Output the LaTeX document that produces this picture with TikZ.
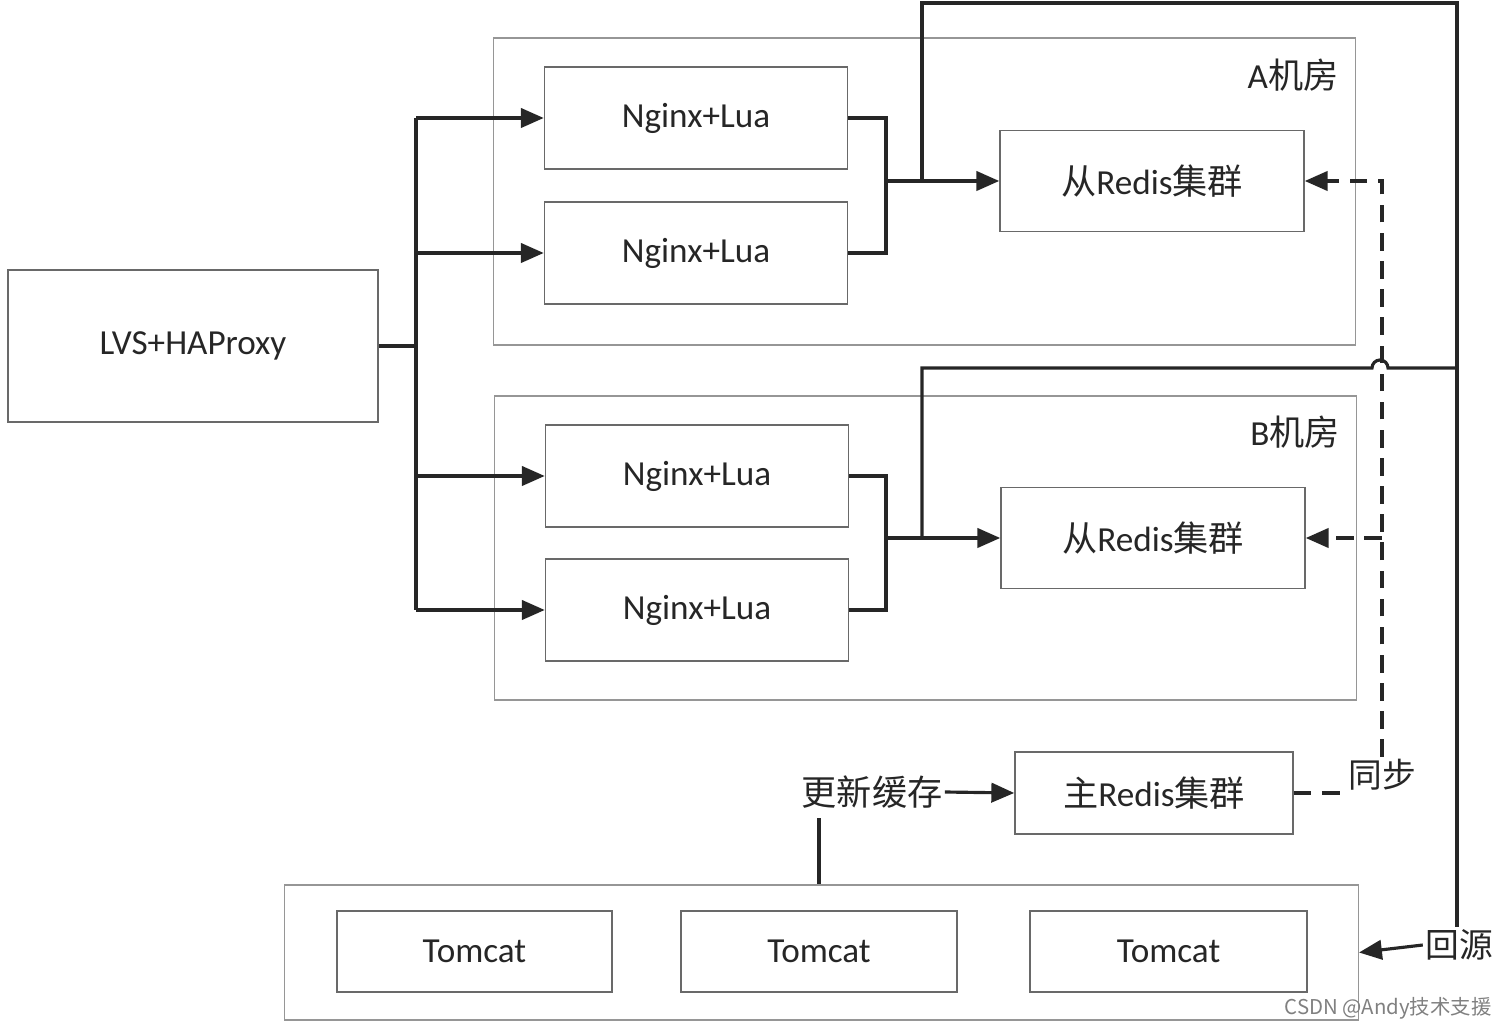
\documentclass[tikz,border=0pt]{standalone}
\usepackage{fontspec}
\setmainfont{Carlito}
\newfontfamily\cjk{Noto Sans CJK SC}
\usetikzlibrary{arrows.meta,positioning}
\definecolor{boxgray}{RGB}{105,105,105}
\definecolor{roomgray}{RGB}{150,150,150}
\definecolor{linedark}{RGB}{38,38,38}
\newcommand{\zh}[1]{{\cjk #1}}
\tikzset{
  box/.style={draw=boxgray, line width=0.4pt, minimum width=3.03cm, minimum height=1.02cm,
              inner sep=0pt, font=\fontsize{10}{12}\selectfont, text=linedark},
  room/.style={draw=roomgray, line width=0.4pt, inner sep=0pt, minimum width=8.61cm},
  tag/.style={font=\fontsize{10}{12}\selectfont, text=linedark, inner sep=0pt},
  lbl/.style={font=\cjk\fontsize{9.6}{11}\selectfont, text=linedark, inner sep=0.5pt},
  wire/.style={linedark, line width=0.9pt},
  arr/.style={wire, -{Triangle[length=6.5pt,width=5.5pt]}},
  syncl/.style={dash pattern=on 5pt off 3pt},
}

\begin{document}
\begin{tikzpicture}[x=0.01cm, y=-0.01cm]
    \useasboundingbox (0,0) rectangle (1500,1028);
    \node[room, minimum height=3.07cm] (roomA) at (924.5,191.5) {};
    \node[room, minimum height=3.04cm] (roomB) at (925.5,548) {};
    \node[tag] (tagA) at (1293,75) {A\zh{机房}};
    \node[tag] (tagB) at (1295,432) {B\zh{机房}};
    \node[box, minimum width=3.70cm, minimum height=1.52cm] (lvs) at (193,346) {LVS+HAProxy};
    \node[box] (ngxA1) at (696,118) {Nginx+Lua};
    \node[box] (ngxA2) at (696,253) {Nginx+Lua};
    \node[box] (ngxB1) at (697,476) {Nginx+Lua};
    \node[box] (ngxB2) at (697,610) {Nginx+Lua};
    \node[box, minimum width=3.04cm, minimum height=1.01cm] (redisA) at (1152,181) {\zh{从}Redis\zh{集群}};
    \node[box, minimum width=3.04cm, minimum height=1.01cm] (redisB) at (1153,538) {\zh{从}Redis\zh{集群}};
    \node[box, minimum width=2.78cm, minimum height=0.82cm] (master) at (1154,793) {\zh{主}Redis\zh{集群}};
    \node[box, draw=roomgray, minimum width=10.73cm, minimum height=1.35cm] (tomcats) at (821.5,952.5) {};
    \node[box, minimum width=2.75cm, minimum height=0.81cm] (tc1) at (474.5,951.5) {Tomcat};
    \node[box, minimum width=2.76cm, minimum height=0.81cm] (tc2) at (819,951.5) {Tomcat};
    \node[box, minimum width=2.77cm, minimum height=0.81cm] (tc3) at (1168.5,951.5) {Tomcat};
    \node[lbl, font=\cjk\fontsize{10}{12}\selectfont] (upd) at (872,792) {更新缓存};
    \node[lbl] (sync) at (1382,775) {同步};
    \node[lbl] (back) at (1459,945) {回源};
    \node[font=\cjk\fontsize{5.8}{7}\selectfont, text=gray, inner sep=0pt] (mark) at (1388,1008) {CSDN @Andy技术支援};

    \coordinate (bus) at (416,346);
    \draw[wire] (lvs.east) -- (bus);
    \draw[wire] (bus |- ngxA1) -- (bus |- ngxB2);
    \foreach \n in {ngxA1,ngxA2,ngxB1,ngxB2}
      \draw[arr] (bus |- \n) -- (\n.west);

    \coordinate (mA) at (886,181);
    \coordinate (mB) at (886,538);
    \draw[wire] (ngxA1.east) -| (mA) |- (ngxA2.east);
    \draw[wire] (ngxB1.east) -| (mB) |- (ngxB2.east);
    \draw[arr] (mA) -- (redisA.west);
    \draw[arr] (mB) -- (redisB.west);

    \coordinate (jA) at (922,181);
    \coordinate (jB) at (922,538);
    \coordinate (top) at (1457,3);
    \draw[wire] (jA) |- (top) -- (top |- back.north);
    \draw[wire] (jB) |- (1372,368) arc[start angle=180, end angle=0, radius=0.08cm] -- (top |- 0,368);
    \draw[arr] (back.west) -- (tomcats.east);

    \draw[wire, syncl] (master.east) -- (master.east -| sync.west);
    \draw[arr, syncl] (sync.north) -- (sync.north |- redisA) -- (redisA.east);
    \draw[arr, syncl] (sync.north |- redisB) -- (redisB.east);

    \draw[arr] (upd.east) -- (master.west);
    \coordinate (tap) at (819,818);
    \draw[wire] (tap) -- (tap |- tomcats.north);
\end{tikzpicture}
\end{document}
